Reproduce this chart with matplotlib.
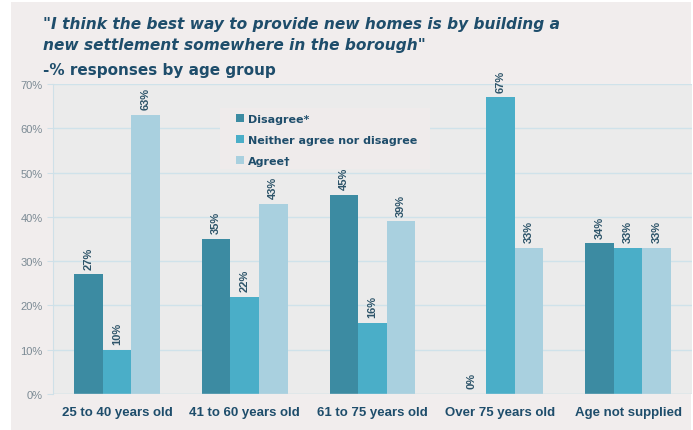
import numpy as np
import matplotlib
matplotlib.use("Agg")
from matplotlib import pyplot as plt
from matplotlib.patches import Rectangle

categories = ["25 to 40 years old", "41 to 60 years old", "61 to 75 years old",
              "Over 75 years old", "Age not supplied"]
series = ["Disagree*", "Neither agree nor disagree", "Agree\u2020"]
disagree = [27, 35, 45, 0, 34]
neither = [10, 22, 16, 67, 33]
agree = [63, 43, 39, 33, 33]
yticks = [0, 10, 20, 30, 40, 50, 60, 70]

colors = ["#3c8ba2", "#4aaec8", "#a9d0df"]
navy = "#1e4d6b"
bg = "#f1eded"

fig = plt.figure(figsize=(6.93, 4.31), dpi=100, facecolor="white")
fig.patches.append(Rectangle((11 / 693, 0), 680 / 693, 1 - 3 / 431,
                             transform=fig.transFigure, facecolor=bg,
                             edgecolor="none", zorder=-10))

ax = fig.add_axes([53 / 693, 1 - 395 / 431, 639 / 693, 310 / 431])
ax.set_facecolor("#ebebeb")

x = np.arange(len(categories))
w = 0.224
for i, (vals, c) in enumerate(zip([disagree, neither, agree], colors)):
    pos = x + (i - 1) * w
    ax.bar(pos, vals, width=w, color=c, label=series[i], zorder=3)
    for p, v in zip(pos, vals):
        ax.text(p, v + 1.3, f"{v}%", rotation=90, ha="center", va="bottom",
                fontsize=8, color="#2d5469", family="Liberation Sans",
                fontweight="bold", clip_on=False)

ax.set_xlim(-0.5, len(categories) - 0.5)
ax.set_ylim(0, 70)
ax.set_yticks(yticks)
ax.set_yticklabels([f"{t}%" for t in yticks], color="#7b8a94", fontsize=8,
                   family="Liberation Sans")
ax.set_xticks(x)
ax.set_xticklabels(categories, fontsize=9.5, fontweight="bold", color=navy,
                   family="Liberation Sans")
ax.tick_params(axis="x", length=0, pad=9)
ax.tick_params(axis="y", length=4, color="#cfe0e8")
ax.grid(axis="y", color="#cfe2ea", linewidth=1, zorder=0)
for s in ["top", "right", "bottom"]:
    ax.spines[s].set_visible(False)
ax.spines["left"].set_color("#cfe0e8")
ax.axhline(0, color="#cfe0e8", linewidth=1, zorder=4)

# legend box drawn separately so the padding can be uneven
fig.patches.append(Rectangle((220 / 693, 1 - 170 / 431), 210 / 693, 61 / 431,
                             transform=fig.transFigure, facecolor="#efebeb",
                             edgecolor="none", zorder=5))
leg = fig.legend(*ax.get_legend_handles_labels(), loc="upper left",
                 bbox_to_anchor=(236 / 693, 1 - 115 / 431), frameon=False,
                 prop={"weight": "bold", "size": 8}, handlelength=0.7,
                 handleheight=0.7, handletextpad=0.35, labelspacing=1.0,
                 borderpad=0, borderaxespad=0)
leg.set_zorder(6)
for t in leg.get_texts():
    t.set_color(navy)

fig.text(43 / 693, 1 - 35 / 431,
         "\"I think the best way to provide new homes is by building a\n"
         "new settlement somewhere in the borough\"",
         fontsize=11.1, fontweight="bold", fontstyle="italic", color=navy,
         va="center", ha="left", linespacing=1.45)
fig.text(43 / 693, 1 - 71 / 431, "-% responses by age group",
         fontsize=11, fontweight="bold", color=navy, va="center", ha="left")

fig.savefig("out.png", dpi=100, facecolor=fig.get_facecolor())
